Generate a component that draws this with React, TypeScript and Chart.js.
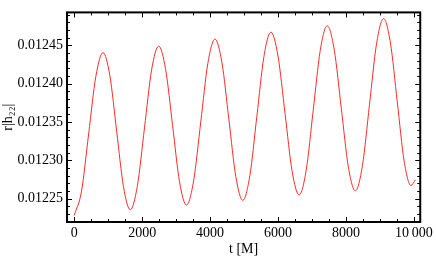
import { useEffect, useRef } from 'react';
import { Chart, registerables } from 'chart.js';

Chart.register(...registerables);

// time t [M]
const tValues = [
  0, 212, 424, 636, 848,
  1049, 1249, 1450, 1650,
  1859, 2068, 2277, 2486,
  2691, 2896, 3100, 3305,
  3515, 3725, 3934, 4144,
  4349, 4554, 4758, 4963,
  5170, 5377, 5584, 5791,
  5999, 6207, 6414, 6622,
  6829, 7036, 7242, 7449,
  7656, 7863, 8070, 8277,
  8485, 8693, 8900, 9108,
  9310, 9512, 9713, 9915,
  10044,
];

// r|h22|
const rValues = [
  0.0122282, 0.0122593, 0.0123344, 0.0124094, 0.0124405,
  0.0124105, 0.0123381, 0.0122656, 0.0122356,
  0.0122668, 0.0123423, 0.0124178, 0.0124490,
  0.0124187, 0.0123454, 0.0122721, 0.0122417,
  0.0122734, 0.0123500, 0.0124265, 0.0124582,
  0.0124274, 0.0123531, 0.0122787, 0.0122479,
  0.0122800, 0.0123576, 0.0124351, 0.0124672,
  0.0124361, 0.0123611, 0.0122860, 0.0122549,
  0.0122872, 0.0123652, 0.0124432, 0.0124755,
  0.0124440, 0.0123679, 0.0122917, 0.0122602,
  0.0122931, 0.0123726, 0.0124520, 0.0124849,
  0.0124530, 0.0123760, 0.0122991, 0.0122672,
  0.0122746,
];

const xTickValues = [0, 2000, 4000, 6000, 8000, 10000];
const xTickLabels = ['0', '2000', '4000', '6000', '8000', '10\u2009000'];
const yTickValues = [0.01225, 0.0123, 0.01235, 0.0124, 0.01245];
const yTickLabels = ['0.01225', '0.01230', '0.01235', '0.01240', '0.01245'];

const xMin = -213;
const xMax = 10187;
const yMin = 0.0122196;
const yMax = 0.012493;
const xMinorStep = 500;
const yMinorStep = 0.00001;

const FONT = '"Liberation Serif", "DejaVu Serif", serif';

const framePlugin = {
  id: 'mmaFrame',
  afterDraw(chart: any) {
    const { ctx, chartArea } = chart;
    const { left, right, top, bottom } = chartArea;
    const xs = chart.scales.x;
    const ys = chart.scales.y;
    ctx.save();
    ctx.strokeStyle = '#000';
    ctx.lineWidth = 1;
    // x ticks (bottom and top, inward)
    const startX = Math.ceil(xMin / xMinorStep) * xMinorStep;
    for (let v = startX; v <= xMax; v += xMinorStep) {
      const major = xTickValues.includes(v);
      const len = major ? 5 : 3;
      const px = Math.round(xs.getPixelForValue(v)) + 0.5;
      ctx.beginPath();
      ctx.moveTo(px, bottom);
      ctx.lineTo(px, bottom - len);
      ctx.moveTo(px, top);
      ctx.lineTo(px, top + len);
      ctx.stroke();
    }
    // y ticks (left and right, inward)
    const startY = Math.ceil(yMin / yMinorStep - 1e-6);
    for (let k = startY; k * yMinorStep <= yMax + 1e-12; k++) {
      const v = k * yMinorStep;
      const major = yTickValues.some((t) => Math.abs(t - v) < 1e-9);
      const len = major ? 5 : 3;
      const py = Math.round(ys.getPixelForValue(v)) + 0.5;
      ctx.beginPath();
      ctx.moveTo(left, py);
      ctx.lineTo(left + len, py);
      ctx.moveTo(right, py);
      ctx.lineTo(right - len, py);
      ctx.stroke();
    }
    ctx.lineWidth = 2;
    ctx.strokeRect(left, top, right - left, bottom - top);
    ctx.restore();
  },
};

export default function App() {
  const ref = useRef<HTMLCanvasElement | null>(null);
  useEffect(() => {
    document.body.style.margin = '0';
    const canvas = ref.current;
    if (!canvas) return;
    const chart = new Chart(canvas, {
      type: 'line',
      data: {
        datasets: [
          {
            data: tValues.map((t, i) => ({ x: t, y: rValues[i] })),
            borderColor: '#ff2a2a',
            borderWidth: 1,
            pointRadius: 0,
            fill: false,
            cubicInterpolationMode: 'monotone',
          },
        ],
      },
      options: {
        responsive: false,
        animation: false,
        events: [],
        layout: { padding: { top: 1, right: 12, left: 0, bottom: 0 } },
        plugins: {
          legend: { display: false },
          tooltip: { enabled: false },
        },
        scales: {
          x: {
            type: 'linear',
            min: xMin,
            max: xMax,
            afterBuildTicks: (scale: any) => {
              scale.ticks = xTickValues.map((v) => ({ value: v }));
            },
            afterFit: (scale: any) => {
              scale.height = 36;
            },
            grid: { display: false, drawTicks: false },
            border: { display: false },
            ticks: {
              autoSkip: false,
              maxRotation: 0,
              padding: 3,
              color: '#000',
              font: { family: FONT, size: 14 },
              callback: (_v: any, i: number) => xTickLabels[i],
            },
            title: {
              display: true,
              text: 't [M]',
              color: '#000',
              font: { family: FONT, size: 14 },
              padding: { top: 0, bottom: 0 },
            },
          },
          y: {
            type: 'linear',
            min: yMin,
            max: yMax,
            afterBuildTicks: (scale: any) => {
              scale.ticks = yTickValues.map((v) => ({ value: v }));
            },
            afterFit: (scale: any) => {
              scale.width = 67;
            },
            grid: { display: false, drawTicks: false },
            border: { display: false },
            ticks: {
              autoSkip: false,
              padding: 4,
              color: '#000',
              font: { family: FONT, size: 14 },
              callback: (_v: any, i: number) => yTickLabels[i],
            },
            title: {
              display: true,
              text: 'r|h\u2082\u2082|',
              color: '#000',
              font: { family: FONT, size: 14 },
              padding: { top: 0, bottom: 0 },
            },
          },
        },
      },
      plugins: [framePlugin],
    } as any);
    return () => chart.destroy();
  }, []);
  return (
    <div style={{ width: 436, height: 258 }}>
      <canvas ref={ref} width={436} height={258} style={{ display: 'block' }} />
    </div>
  );
}
